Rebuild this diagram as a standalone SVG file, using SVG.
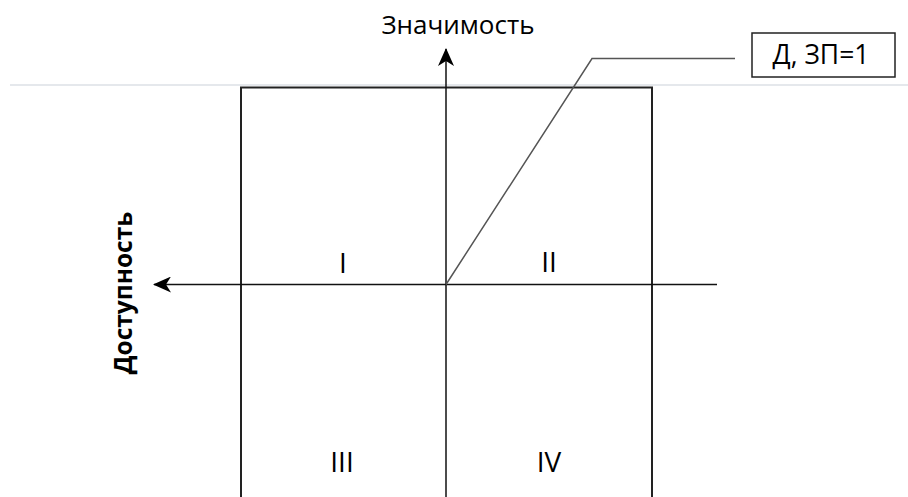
<svg xmlns="http://www.w3.org/2000/svg" width="908" height="497" viewBox="0 0 908 497">
<defs>
<style>
.t{font-family:"Open Sans","Noto Sans","Liberation Sans",sans-serif;fill:#000;}
.ax{stroke:#111;stroke-width:1.5;fill:none;}
.q{font-size:28px;text-anchor:middle;}
</style>
<marker id="arr" viewBox="0 0 18 16" refX="17" refY="8" markerWidth="18" markerHeight="16" markerUnits="userSpaceOnUse" orient="auto">
<path d="M0,0 L18,8 L0,16 L5,8 Z" fill="#000"/>
</marker>
</defs>
<rect width="908" height="497" fill="#fff"/>
<line x1="10" y1="85" x2="908" y2="85" stroke="#dde1e6" stroke-width="1.5"/>
<g id="quadrant-box">
<rect x="241" y="87.5" width="411" height="440" fill="none" stroke="#222" stroke-width="2"/>
</g>
<g id="connectors">
<line class="ax" x1="446" y1="497" x2="446" y2="49" marker-end="url(#arr)"/>
<line class="ax" x1="717" y1="284.5" x2="154" y2="284.5" marker-end="url(#arr)"/>
<polyline points="446,284.5 592,58.5 735,58.5" fill="none" stroke="#555" stroke-width="1.5"/>
</g>
<g id="label-znachimost">
<text class="t" x="458" y="34" font-size="26" text-anchor="middle">Значимость</text>
</g>
<g id="label-dostupnost">
<text class="t" transform="translate(132,293) rotate(-90)" font-size="24.5" font-weight="bold" text-anchor="middle">Доступность</text>
</g>
<g id="callout">
<rect x="752" y="33" width="143" height="44" fill="#fff" stroke="#222" stroke-width="1.5"/>
<text class="t" x="821" y="64" font-size="26.5" text-anchor="middle">Д, ЗП=1</text>
</g>
<g id="q1"><text class="t q" x="343" y="273">I</text></g>
<g id="q2"><text class="t q" x="549" y="272">II</text></g>
<g id="q3"><text class="t q" x="342" y="472">III</text></g>
<g id="q4"><text class="t q" x="549" y="472">IV</text></g>
</svg>
